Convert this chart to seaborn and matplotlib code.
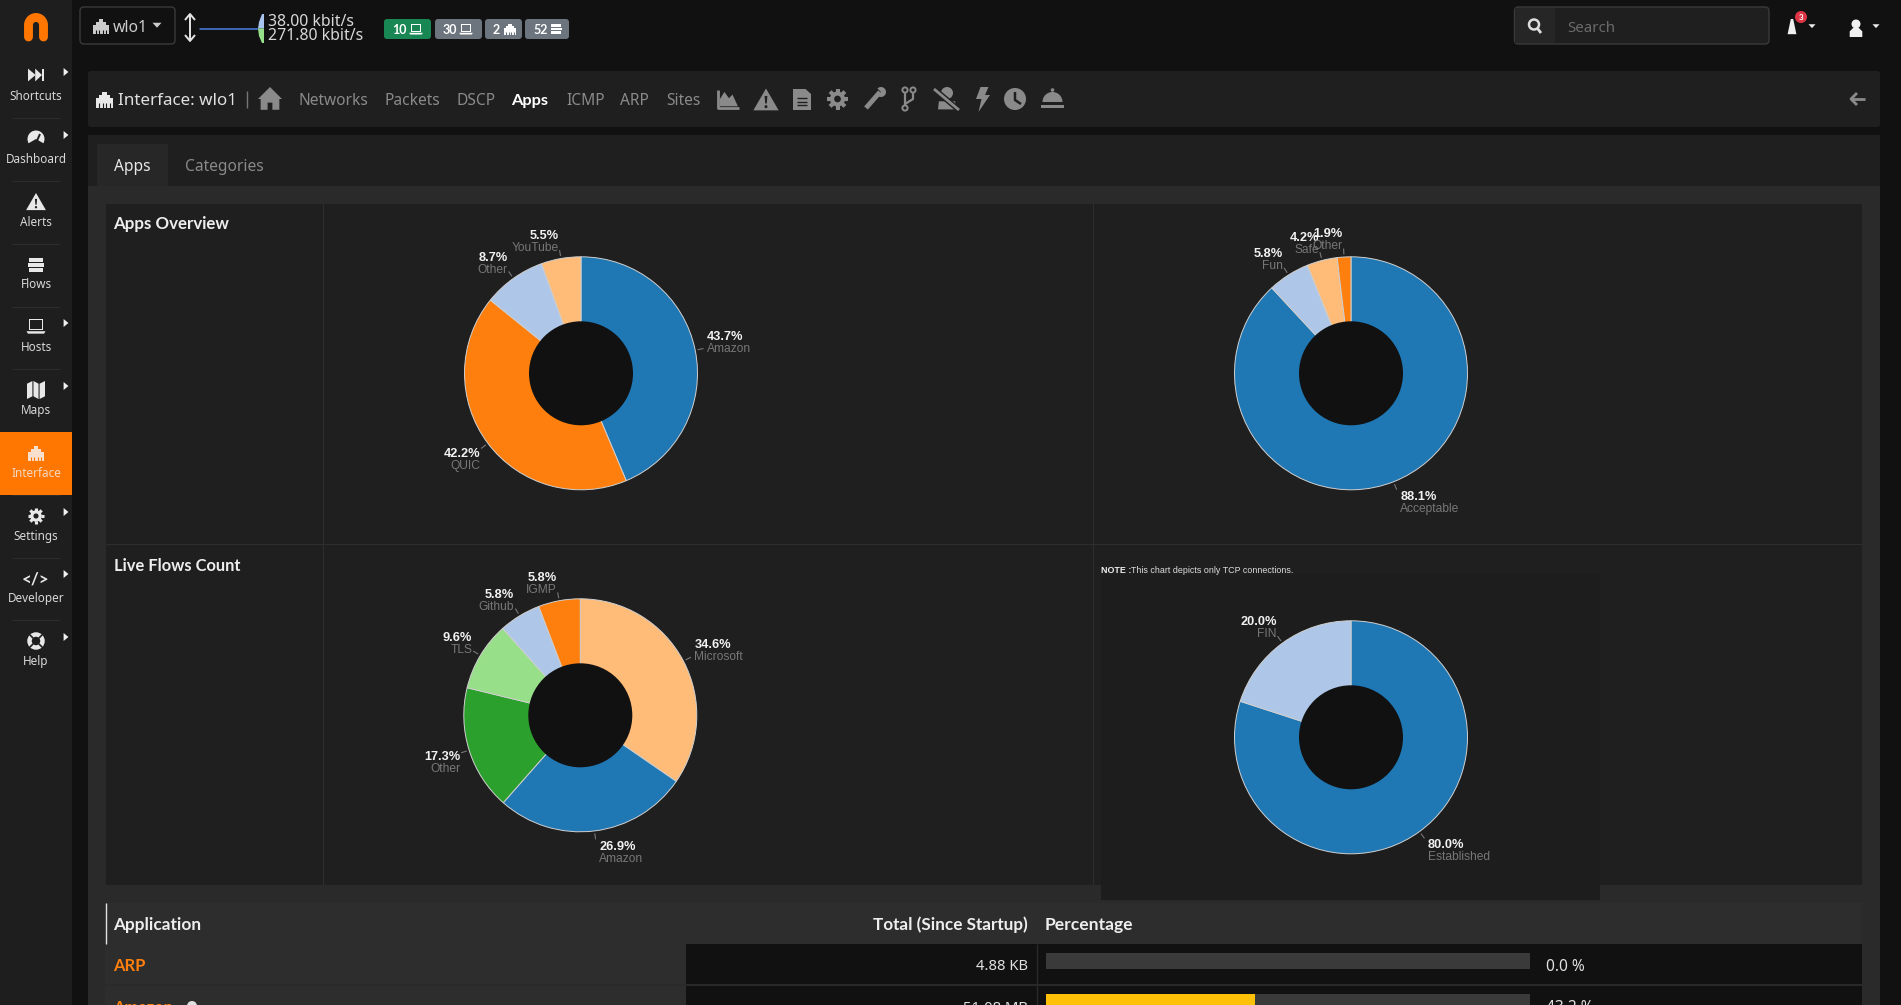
from matplotlib import pyplot as plt
from matplotlib.patches import Rectangle, FancyBboxPatch, Circle, Polygon, Wedge
import numpy as np
import seaborn as sns

W, H = 1901, 1005

# chart values
apps_labels = ['Amazon', 'QUIC', 'Other', 'YouTube']
apps_values = [43.7, 42.2, 8.7, 5.5]
breed_labels = ['Acceptable', 'Fun', 'Safe', 'Other']
breed_values = [88.1, 5.8, 4.2, 1.9]
flows_labels = ['Microsoft', 'Amazon', 'Other', 'TLS', 'Github', 'IGMP']
flows_values = [34.6, 26.9, 17.3, 9.6, 5.8, 5.8]
tcp_labels = ['Established', 'FIN']
tcp_values = [80.0, 20.0]

table_apps = ['ARP', 'Amazon']
table_totals = ['4.88 KB', '51.08 MB']
table_pct = [0.0, 43.2]
table_full = [100, 100]

sidebar_items = ['Shortcuts', 'Dashboard', 'Alerts', 'Flows', 'Hosts', 'Maps',
                 'Interface', 'Settings', 'Developer', 'Help']
nav_items = ['Networks', 'Packets', 'DSCP', 'Apps', 'ICMP', 'ARP', 'Sites']
nav_x = [298, 384.5, 456, 511.5, 566, 620, 666.5]

sns.set_theme(style='dark')
plt.rcParams['font.family'] = ['Noto Sans', 'DejaVu Sans']
plt.rcParams['patch.force_edgecolor'] = False
tab20 = sns.color_palette('tab20')
BLUE, LBLUE, ORANGE, LORANGE, GREEN, LGREEN = tab20[:6]

GREY = '#8a8a8a'
DARK = '#111111'
PANEL = '#1f1f1f'


def px(n):
    return n * 0.72


fig = plt.figure(figsize=(W / 100, H / 100), dpi=100, facecolor=DARK)
page = fig.add_axes([0, 0, 1, 1])
page.set_xlim(0, W)
page.set_ylim(H, 0)
page.axis('off')


def box(x0, y0, x1, y1, color, ec='none', lw=0, z=1):
    page.add_patch(Rectangle((x0, y0), x1 - x0, y1 - y0, fc=color, ec=ec, lw=lw, zorder=z))


def rbox(x0, y0, x1, y1, color, ec='none', lw=0, r=4, z=1):
    page.add_patch(FancyBboxPatch((x0, y0), x1 - x0, y1 - y0, boxstyle=f'round,pad=0,rounding_size={r}',
                                  fc=color, ec=ec, lw=lw, zorder=z))


def txt(x, y, s, size, color='#dddddd', ha='left', weight='normal', family=None, z=6):
    # Noto Sans has no bold here, Lato does
    if family is None and weight == 'bold':
        family = 'Lato'
    kw = {'family': family} if family else {}
    page.text(x, y, s, fontsize=px(size), color=color, ha=ha, va='center_baseline', fontweight=weight, zorder=z, **kw)


def poly(cx, cy, s, pts, color, z=5):
    pts = np.array(pts, dtype=float) * s + [cx, cy]
    page.add_patch(Polygon(pts, closed=True, fc=color, ec='none', zorder=z))


def line(xs, ys, color, lw=1, z=5, cap='butt'):
    page.plot(xs, ys, color=color, lw=lw, zorder=z, solid_capstyle=cap)


# icons, roughly
def rj45(cx, cy, s, color, bg):
    poly(cx, cy, s, [(-1, 1), (-1, -.1), (-.6, -.1), (-.6, -.5), (-.3, -.5), (-.3, -.85), (.3, -.85),
                     (.3, -.5), (.6, -.5), (.6, -.1), (1, -.1), (1, 1)], color)
    for d in [-.6, -.2, .2, .6]:
        line([cx + d * s, cx + d * s], [cy + .45 * s, cy + s], bg, lw=.8, z=5.5)


def laptop(cx, cy, s, color, bg):
    poly(cx, cy, s, [(-.8, -.8), (.8, -.8), (.8, .45), (-.8, .45)], color)
    poly(cx, cy, s, [(-.62, -.62), (.62, -.62), (.62, .3), (-.62, .3)], bg, z=5.2)
    poly(cx, cy, s, [(-1.05, .58), (1.05, .58), (.9, .85), (-.9, .85)], color)


def stack(cx, cy, s, color):
    for dy, a, b in [(-.65, -.85, .85), (0, -1, 1), (.65, -.85, .85)]:
        poly(cx, cy, s, [(a, dy - .22), (b, dy - .22), (b, dy + .22), (a, dy + .22)], color)


def warn(cx, cy, s, color, bg):
    poly(cx, cy, s, [(0, -1), (1.1, .9), (-1.1, .9)], color)
    poly(cx, cy, s, [(-.12, -.35), (.12, -.35), (.07, .3), (-.07, .3)], bg, z=5.2)
    page.add_patch(Circle((cx, cy + .58 * s), .13 * s, fc=bg, zorder=5.2))


def gear(cx, cy, s, color, bg):
    page.add_patch(Circle((cx, cy), .72 * s, fc=color, zorder=5))
    for a in np.arange(0, 360, 45):
        c, n = np.cos(np.radians(a)), np.sin(np.radians(a))
        line([cx + .6 * s * c, cx + s * c], [cy + .6 * s * n, cy + s * n], color, lw=.28 * s)
    page.add_patch(Circle((cx, cy), .32 * s, fc=bg, zorder=5.2))


def caret(cx, cy, s, color):
    poly(cx, cy, s, [(-1, -.5), (1, -.5), (0, .6)], color)


def right_tri(cx, cy, s, color):
    poly(cx, cy, s, [(-.6, -1), (.6, 0), (-.6, 1)], color)


# backgrounds
box(0, 0, 72, H, '#1e1e1e')
box(0, 432, 72, 495, '#ff7700', z=2)
rbox(88, 71, 1880, 127, PANEL, r=3)
rbox(88, 135, 1880, 1010, '#2a2a2a', r=3)
box(88, 135, 1880, 186, PANEL)
box(97, 144, 168, 186, '#272727')
for sep_y in [118, 181, 244, 307, 369, 432, 495, 558, 620]:
    line([12, 60], [sep_y, sep_y], '#2c2c2c', lw=.8, z=1.5)

# chart grid
box(106, 203, 1862, 885, PANEL)
for sx in [322.5, 1092.5]:
    line([sx, sx], [203, 885], '#2e2e2e', lw=.8, z=1.5)
line([106, 1862], [544, 544], '#2e2e2e', lw=.8, z=1.5)
for sy in [203, 885]:
    line([106, 1862], [sy, sy], '#2a2a2a', lw=.8, z=1.5)
box(1101, 575, 1600, 900, '#1d1d1d', z=1.6)

# logo
t = np.linspace(np.pi, 0, 30)
page.plot(np.r_[28.5, 36 + 7.5 * np.cos(t), 43.5], np.r_[37, 25 - 7.5 * np.sin(t), 37], color='#ff7700', lw=6.4,
          solid_capstyle='round', zorder=5)

# sidebar
for i, name in enumerate(sidebar_items):
    ly = 95 + i * 62.8
    color = '#f3d9c4' if name == 'Interface' else '#d8d8d8'
    txt(36, ly, name, 11.7, color=color, ha='center')
icon_y = [75, 138, 202, 265, 326, 390, 453, 516, 578, 641]
WHITE = '#e8e8e8'
poly(36, icon_y[0], 8, [(-1, -.8), (-.05, 0), (-1, .8)], WHITE)
poly(36, icon_y[0], 8, [(-.1, -.8), (.75, 0), (-.1, .8)], WHITE)
poly(36, icon_y[0], 8, [(.8, -.8), (1.05, -.8), (1.05, .8), (.8, .8)], WHITE)
page.add_patch(Wedge((36, icon_y[1] + 1), 8.5, 150, 390, fc=WHITE, zorder=5))
line([36, 40], [icon_y[1] + 5, icon_y[1] - 4], '#1e1e1e', lw=1.4, z=5.2)
warn(36, icon_y[2], 9, WHITE, '#1e1e1e')
stack(36, icon_y[3], 8, WHITE)
laptop(36, icon_y[4], 9, WHITE, '#1e1e1e')
poly(36, icon_y[5], 9, [(-1, -.7), (-.4, -1), (-.4, .7), (-1, 1)], WHITE)
poly(36, icon_y[5], 9, [(-.28, -1), (.28, -.7), (.28, 1), (-.28, .7)], WHITE)
poly(36, icon_y[5], 9, [(.4, -.7), (1, -1), (1, .7), (.4, 1)], WHITE)
rj45(36, icon_y[6], 8, '#f8e0cc', '#ff7700')
gear(36, icon_y[7], 8, WHITE, '#1e1e1e')
txt(36, icon_y[8], '</>', 17, color=WHITE, ha='center', weight='bold')
page.add_patch(Circle((36, icon_y[9]), 6.5, fc='none', ec=WHITE, lw=3.2, zorder=5))
for a in [45, 135, 225, 315]:
    c, n = np.cos(np.radians(a)), np.sin(np.radians(a))
    line([36 + 4 * c, 36 + 9 * c], [icon_y[9] + 4 * n, icon_y[9] + 9 * n], '#1e1e1e', lw=1.2, z=5.2)
for ty in [72, 135, 323, 386, 512, 574, 637]:
    right_tri(66, ty, 4, '#f0f0f0')

# top bar
rbox(80, 7, 175, 44, DARK, ec='#3a3a3a', lw=1)
rj45(101, 26, 8, '#cccccc', DARK)
txt(113, 26, 'wlo1', 15.8, color='#cccccc')
caret(157, 25, 4.5, '#cccccc')
line([190, 190], [14, 41], '#e4e4e4', lw=1.4)
line([185, 190, 195], [20, 14, 20], '#e4e4e4', lw=1.4)
line([185, 190, 195], [35, 41, 35], '#e4e4e4', lw=1.4)
page.plot([200, 258], [28.5, 28.5], color='#4d7fe0', lw=1.1, zorder=5)
poly(0, 0, 1, [(262, 14), (259, 22), (258, 28.5), (264, 28.5), (264, 14)], '#a9c5ee')
poly(0, 0, 1, [(258, 28.5), (259, 36), (262, 43), (264, 43), (264, 28.5)], '#98df8a')
txt(268.5, 20, '38.00 kbit/s', 15.8, color='#d8d8d8')
txt(268.5, 34, '271.80 kbit/s', 15.8, color='#d8d8d8')

badge_spans = [(384, 431, '#198754', '10'), (435, 482, '#6c757d', '30'), (485, 522, '#6c757d', '2'),
               (525, 569, '#6c757d', '52')]
for x0, x1, col, val in badge_spans:
    rbox(x0, 19, x1, 39, col, r=3)
    txt(x0 + 8, 29, val, 12.5, color='#ffffff', weight='bold')
laptop(416, 29, 6.5, '#ffffff', '#198754')
laptop(466, 29, 6.5, '#ffffff', '#6c757d')
rj45(510, 29, 6, '#ffffff', '#6c757d')
stack(556, 29, 5.5, '#ffffff')

# search and user
rbox(1514.5, 7, 1769, 44, PANEL, ec='#3a3a3a', lw=1)
box(1515, 8, 1555, 43, '#262626', z=1.2)
page.add_patch(Circle((1534, 24.5), 5, fc='none', ec='#dddddd', lw=1.8, zorder=5))
line([1537.5, 1541], [28.5, 33], '#dddddd', lw=2)
txt(1567.5, 26, 'Search', 15, color='#6a6a6a')
poly(1792, 27, 8, [(-.15, -1), (.15, -1), (.55, .9), (-.55, .9)], '#f0f0f0')
page.add_patch(Circle((1801, 17), 6, fc='#dc3545', zorder=6))
txt(1801, 17, '3', 8, color='#ffffff', ha='center', weight='bold', z=7)
caret(1812, 26, 3.5, '#eeeeee')
page.add_patch(Circle((1856, 24), 4.5, fc='#f0f0f0', zorder=5))
poly(1856, 30, 7, [(-.9, 1), (-.9, .2), (-.4, -.3), (.4, -.3), (.9, .2), (.9, 1)], '#f0f0f0')
caret(1876, 26, 3.5, '#eeeeee')

# nav row
rj45(104.5, 99, 8.5, '#e8e8e8', PANEL)
txt(118, 99, 'Interface: wlo1', 17, color='#e0e0e0')
line([247, 247], [91, 108], '#777777', lw=1)
poly(270, 99, 12, [(0, -1), (1, 0), (.78, 0), (.78, .9), (.2, .9), (.2, .3), (-.2, .3), (-.2, .9), (-.78, .9),
                   (-.78, 0), (-1, 0)], GREY)
for name, nx in zip(nav_items, nav_x):
    if name == 'Apps':
        txt(nx, 99, name, 16.4, color='#ffffff', weight='bold')
    else:
        txt(nx, 99, name, 15.5, color=GREY)
line([718, 718, 739], [90, 108, 108], GREY, lw=2)
poly(728, 100, 9, [(-.9, .7), (-.9, -.1), (-.4, -.9), (.1, -.2), (.5, -.6), (1.1, .7)], GREY)
warn(766, 100, 11.5, GREY, PANEL)
poly(802, 99, 10, [(-.9, -1), (.35, -1), (.9, -.5), (.9, 1.1), (-.9, 1.1)], GREY)
for dy in [-.1, .25, .6]:
    line([797, 807], [99 + dy * 10, 99 + dy * 10], PANEL, lw=1, z=5.2)
gear(837.5, 99, 10.5, GREY, PANEL)
line([866, 880], [108, 92], GREY, lw=3.5)
page.add_patch(Wedge((881, 92), 5, -135, 135, fc=GREY, zorder=5))
line([905, 905], [91, 108], GREY, lw=1.6)
line([905, 913, 913], [104, 99, 91], GREY, lw=1.6)
for bx, by in [(905, 90), (913, 90), (905, 108)]:
    page.add_patch(Circle((bx, by), 2.6, fc=PANEL, ec=GREY, lw=1.4, zorder=5.2))
page.add_patch(Circle((947, 93), 6, fc=GREY, zorder=5))
poly(947, 104, 9, [(-1, .6), (-.9, -.3), (.9, -.3), (1, .6)], GREY)
line([934, 959], [89, 110], PANEL, lw=4, z=5.2)
line([934, 959], [89, 110], GREY, lw=2, z=5.3)
poly(982, 98, 10, [(-.15, -1.1), (.65, -1.1), (.3, -.3), (.8, -.3), (-.35, 1.4), (-.05, .1), (-.6, .1)], GREY)
page.add_patch(Circle((1015, 99), 11, fc=GREY, zorder=5))
line([1015, 1015, 1021], [92, 100, 104], PANEL, lw=1.8, z=5.2)
page.add_patch(Wedge((1052.5, 102), 10, 180, 360, fc=GREY, zorder=5))
page.add_patch(Circle((1052.5, 90), 1.8, fc=GREY, zorder=5))
box(1041, 105, 1064, 108, GREY, z=5)
line([1851, 1865], [99, 99], GREY, lw=2)
line([1857, 1851, 1857], [93, 99, 105], GREY, lw=2)

# tabs
txt(114, 165, 'Apps', 15.5, color='#e8e8e8')
txt(185, 165, 'Categories', 15.5, color=GREY)
txt(113.5, 222.5, 'Apps Overview', 16.9, color='#eeeeee', weight='bold')
txt(113.5, 564.5, 'Live Flows Count', 16.5, color='#eeeeee', weight='bold')
txt(1101, 569.5, 'NOTE :', 8.9, color='#eeeeee', weight='bold', family='Liberation Sans')
txt(1131, 569.5, 'This chart depicts only TCP connections.', 8.85, family='Liberation Sans')


def donut(cx, cy, labels, values, colors, radius=116.5, hole=52):
    ax = fig.add_axes([(cx - radius) / W, 1 - (cy + radius) / H, 2 * radius / W, 2 * radius / H])
    ax.patch.set_alpha(0)
    wedges, _ = ax.pie(values, colors=colors, startangle=90, counterclock=False, radius=1,
                       wedgeprops={'edgecolor': '#d0d0d0', 'linewidth': .7})
    for w in wedges:
        w.set_clip_on(False)
    ax.add_patch(Circle((0, 0), hole / radius, fc=DARK, ec='none', zorder=5))
    ax.set_xlim(-1, 1)
    ax.set_ylim(-1, 1)
    # labels hang off the middle of each slice
    total = sum(values)
    start = 0
    for name, val in zip(labels, values):
        ang = np.radians((start + val / 2) / total * 360)
        start += val
        dx, dy = np.sin(ang), -np.cos(ang)
        line([cx + 119 * dx, cx + 125 * dx], [cy + 119 * dy, cy + 125 * dy], '#777777', lw=.8)
        ex, ey = cx + 125 * dx, cy + 125 * dy
        ha = 'left' if dx > 0 else 'right'
        tx = ex + 3.5 if dx > 0 else ex - 1
        name_y = ey + 4 * dy if dy < 0 else ey + 12.5 + 6 * dy
        txt(tx, name_y - 12, f'{val:.1f}%', 12.7, color='#f2f2f2', ha=ha, weight='bold', family='Liberation Sans')
        txt(tx, name_y, name, 12, color='#777777', ha=ha, family='Liberation Sans')


donut(581, 373.3, apps_labels, apps_values, [BLUE, ORANGE, LBLUE, LORANGE])
donut(1351, 373.3, breed_labels, breed_values, [BLUE, LBLUE, LORANGE, ORANGE])
donut(580.3, 715.3, flows_labels, flows_values, [LORANGE, BLUE, GREEN, LGREEN, LBLUE, ORANGE])
donut(1351, 737.3, tcp_labels, tcp_values, [BLUE, LBLUE])

# table
box(105, 903, 1862, 944, '#2d2d2d', z=2)
line([105.5, 105.5], [903, 944], '#e0e0e0', lw=1, z=3)
txt(113.5, 923.5, 'Application', 17.3, color='#eeeeee', weight='bold')
txt(1028, 923.5, 'Total (Since Startup)', 17.1, color='#eeeeee', ha='right', weight='bold')
txt(1045, 923.5, 'Percentage', 17.5, color='#eeeeee', weight='bold')
box(105, 944, 686, H + 5, '#2d2d2d', z=2)
box(686, 944, 1862, H + 5, DARK, z=2)
line([1036.5, 1036.5], [944, H + 5], '#2a2a2a', lw=1, z=3)
line([105, 1862], [985, 985], '#2a2a2a', lw=1.4, z=3)
row_y = [964.5, 1006]
for name, total, pct, ry in zip(table_apps, table_totals, table_pct, row_y):
    txt(113.5, ry, name, 16.5, color='#ff7f0e', weight='bold')
    txt(1028, ry, total, 14.8, color='#e0e0e0', ha='right')
    txt(1545.5, ry, f'{pct:.1f} %', 15.5, color='#e0e0e0')
page.add_patch(Circle((192, 1006), 5, fc='#e0e0e0', zorder=6))

bars = fig.add_axes([1045.5 / W, 1 - 1022.5 / H, 484.5 / W, 82 / H], zorder=5)
sns.barplot(x=table_full, y=table_apps, orient='h', color='#3a3a3a', width=.39, linewidth=0, saturation=1, ax=bars)
sns.barplot(x=table_pct, y=table_apps, orient='h', color='#ffc107', width=.39, linewidth=0, saturation=1, ax=bars)
bars.set_xlim(0, 100)
bars.set_ylim(1.5, -.5)
bars.axis('off')

fig.savefig('out.png', dpi=100, facecolor=DARK)
